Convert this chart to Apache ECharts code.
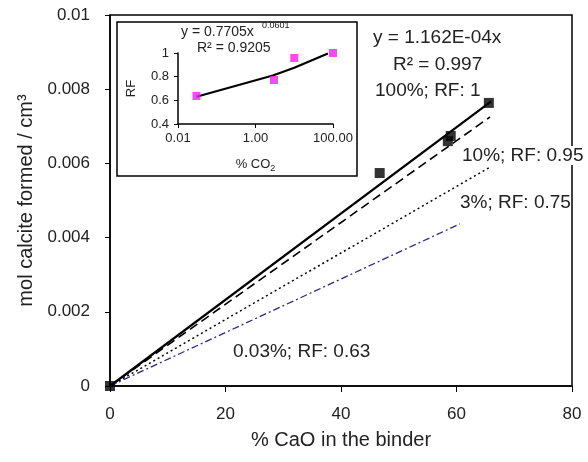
<!DOCTYPE html>
<html>
<head>
<meta charset="utf-8">
<script src="https://cdn.jsdelivr.net/npm/echarts@6/dist/echarts.min.js"></script>
<style>
  html, body { margin: 0; padding: 0; background: #fff; }
  #chart { width: 588px; height: 462px; }
</style>
</head>
<body>
<div id="chart"></div>
<script>
// main chart: measured points
const caoPct = [0, 46.7, 58.5, 59, 65.6]
const calcite = [0, 0.00574, 0.0066, 0.00674, 0.00763]
// fitted lines (start at origin)
const fitNames = ['100%', '10%', '3%', '0.03%']
const fitEndX = [66, 65.8, 65.6, 60.6]
const fitEndY = [0.00767, 0.00725, 0.00588, 0.00437]
// inset: RF against % CO2
const co2Pct = [0.03, 3, 10, 100]
const rfValues = [0.637, 0.772, 0.958, 1.0]
const trendX = [0.03, 2.8, 10, 74]
const trendY = [0.63, 0.81, 0.875, 0.995]

const font = 'Liberation Sans, Arial, sans-serif'
const fitStyles = [
  { color: '#000', width: 2.2, type: 'solid' },
  { color: '#000', width: 1.6, type: [9, 5] },
  { color: '#000', width: 1.5, type: [2, 3] },
  { color: '#2a2a8c', width: 1.3, type: [7, 3, 2, 3] }
]

const fitSeries = fitNames.map((n, i) => ({
  name: n,
  type: 'line',
  xAxisIndex: 0,
  yAxisIndex: 0,
  data: [[0, 0], [fitEndX[i], fitEndY[i]]],
  showSymbol: false,
  lineStyle: fitStyles[i],
  z: 3
}))

const chart = echarts.init(document.getElementById('chart'))
chart.setOption({
  animation: false,
  textStyle: { fontFamily: font },
  grid: [
    { left: 110, top: 15, right: 16, bottom: 76, show: true, borderColor: '#000', borderWidth: 1.5 },
    { left: 178, top: 53, width: 155, height: 71 }
  ],
  xAxis: [
    {
      gridIndex: 0,
      type: 'value',
      min: 0,
      max: 80,
      interval: 20,
      name: '% CaO in the binder',
      nameLocation: 'middle',
      nameGap: 44,
      nameTextStyle: { fontSize: 20, color: '#222' },
      axisLine: { lineStyle: { color: '#000', width: 1.5 } },
      axisTick: { length: 6, lineStyle: { color: '#000' } },
      axisLabel: { fontSize: 17, color: '#222', margin: 20 },
      splitLine: { show: false }
    },
    {
      gridIndex: 1,
      type: 'log',
      logBase: 10,
      min: 0.01,
      max: 100,
      interval: 2,
      name: '{a|% CO}{s|2}',
      nameLocation: 'middle',
      nameGap: 32,
      nameTextStyle: {
        rich: {
          a: { fontSize: 13, color: '#222', fontFamily: font },
          s: { fontSize: 9, color: '#222', fontFamily: font, padding: [8, 0, 0, 0] }
        }
      },
      axisLine: { lineStyle: { color: '#000', width: 1.5 } },
      axisTick: { length: 4, lineStyle: { color: '#000' } },
      axisLabel: { fontSize: 13, color: '#222', margin: 8, formatter: v => Number(v).toFixed(2) },
      splitLine: { show: false },
      minorTick: { show: false }
    }
  ],
  yAxis: [
    {
      gridIndex: 0,
      type: 'value',
      min: 0,
      max: 0.01,
      interval: 0.002,
      name: 'mol calcite formed / cm³',
      nameLocation: 'middle',
      nameGap: 67,
      nameTextStyle: { fontSize: 20, color: '#222' },
      axisLine: { lineStyle: { color: '#000', width: 1.5 } },
      axisTick: { length: 5, lineStyle: { color: '#000' } },
      axisLabel: { fontSize: 17, color: '#222', margin: 20 },
      splitLine: { show: false }
    },
    {
      gridIndex: 1,
      type: 'value',
      min: 0.4,
      max: 1,
      interval: 0.2,
      name: 'RF',
      nameLocation: 'middle',
      nameGap: 40,
      nameTextStyle: { fontSize: 13, color: '#222' },
      axisLine: { lineStyle: { color: '#000', width: 1.5 } },
      axisTick: { length: 4, lineStyle: { color: '#000' } },
      axisLabel: { fontSize: 13, color: '#222', margin: 9 },
      splitLine: { show: false }
    }
  ],
  series: [
    ...fitSeries,
    {
      name: 'measured',
      type: 'scatter',
      xAxisIndex: 0,
      yAxisIndex: 0,
      data: caoPct.map((x, i) => [x, calcite[i]]),
      symbol: 'rect',
      symbolSize: 10,
      itemStyle: { color: '#000' },
      z: 4
    },
    {
      name: 'trend',
      type: 'line',
      xAxisIndex: 1,
      yAxisIndex: 1,
      data: trendX.map((x, i) => [x, trendY[i]]),
      showSymbol: false,
      lineStyle: { color: '#000', width: 2.2 },
      z: 3
    },
    {
      name: 'RF',
      type: 'scatter',
      xAxisIndex: 1,
      yAxisIndex: 1,
      data: co2Pct.map((x, i) => [x, rfValues[i]]),
      symbol: 'rect',
      symbolSize: 8,
      itemStyle: { color: '#ee22ee' },
      z: 4
    }
  ],
  graphic: [
    { type: 'rect', shape: { x: 117, y: 22, width: 240, height: 154 }, style: { fill: 'none', stroke: '#000', lineWidth: 1.5 }, z: 1 },
    { type: 'text', x: 181, y: 25, style: { text: 'y = 0.7705x', font: '14px ' + font, fill: '#222' }, z: 10 },
    { type: 'text', x: 262, y: 21, style: { text: '0.0601', font: '9px ' + font, fill: '#222' }, z: 10 },
    { type: 'text', x: 197, y: 41, style: { text: 'R² = 0.9205', font: '14px ' + font, fill: '#222' }, z: 10 },
    { type: 'text', x: 373, y: 28, style: { text: 'y = 1.162E-04x', font: '19px ' + font, fill: '#222' }, z: 10 },
    { type: 'text', x: 393, y: 55, style: { text: 'R² = 0.997', font: '19px ' + font, fill: '#222' }, z: 10 },
    { type: 'text', x: 375, y: 81, style: { text: '100%; RF: 1', font: '19px ' + font, fill: '#222' }, z: 10 },
    { type: 'text', x: 462, y: 146, style: { text: '10%; RF: 0.95', font: '19px ' + font, fill: '#222', backgroundColor: '#fff' }, z: 10 },
    { type: 'text', x: 460, y: 193, style: { text: '3%; RF: 0.75', font: '19px ' + font, fill: '#222', backgroundColor: '#fff' }, z: 10 },
    { type: 'text', x: 233, y: 342, style: { text: '0.03%; RF: 0.63', font: '19px ' + font, fill: '#222' }, z: 10 }
  ]
})
</script>
</body>
</html>
